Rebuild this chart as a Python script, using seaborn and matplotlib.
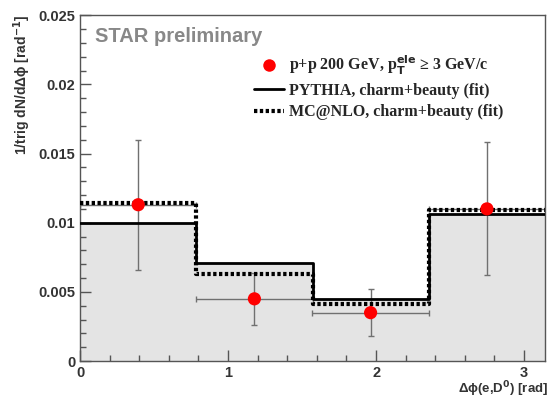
import numpy as np
import pandas as pd
import matplotlib
matplotlib.use("Agg")
import matplotlib.pyplot as plt
import seaborn as sns
from matplotlib.ticker import MultipleLocator
from matplotlib.lines import Line2D

# Data
bin_edges = [0.0, np.pi / 4, np.pi / 2, 3 * np.pi / 4, np.pi]
bin_centers = [0.393, 1.178, 1.963, 2.749]
data_y = [0.0113, 0.0045, 0.0035, 0.0110]
data_yerr = [0.0047, 0.0019, 0.0017, 0.0048]
data_xerr = [0.393, 0.393, 0.393, 0.393]
pythia = [0.0100, 0.0071, 0.0045, 0.0106]
mcnlo = [0.0114, 0.0063, 0.0041, 0.0109]
x_tick_labels = ["0", "1", "2", "3"]
y_tick_labels = ["0", "0.005", "0.01", "0.015", "0.02", "0.025"]

sns.set_style("ticks")
plt.rcParams['font.family'] = ['Liberation Sans', 'DejaVu Sans']

fig = plt.figure(figsize=(5.5, 3.99), dpi=100)
ax = fig.add_axes([0.1455, 0.095, 0.8455, 0.867])
ax.set_axisbelow(False)

# PYTHIA filled histogram
sns.histplot(x=bin_centers, weights=pythia, bins=bin_edges, element="step",
             fill=True, color="#e4e4e4", alpha=1.0, linewidth=0, ax=ax, zorder=1)

step_df = pd.DataFrame({
    "x": bin_edges,
    "pythia": pythia + [pythia[-1]],
    "mcnlo": mcnlo + [mcnlo[-1]],
})
sns.lineplot(data=step_df, x="x", y="pythia", drawstyle="steps-post", color="black",
             linewidth=2.0, ax=ax, zorder=3)
sns.lineplot(data=step_df, x="x", y="mcnlo", drawstyle="steps-post", color="black",
             linewidth=3.0, linestyle=(0, (0.8, 0.6)), ax=ax, zorder=4)

ax.errorbar(bin_centers, data_y, yerr=data_yerr, xerr=data_xerr, fmt="none",
            ecolor="#707070", elinewidth=1.0, capsize=2, capthick=1.0, zorder=2)
sns.scatterplot(x=bin_centers, y=data_y, color="#ff0000", s=90, edgecolor="none",
                ax=ax, zorder=5)

ax.set_xlim(0, np.pi)
ax.set_ylim(0, 0.025)
ax.set_xticks([0, 1, 2, 3])
ax.set_xticklabels(x_tick_labels)
ax.set_yticks([0, 0.005, 0.01, 0.015, 0.02, 0.025])
ax.set_yticklabels(y_tick_labels)
ax.xaxis.set_minor_locator(MultipleLocator(0.2))
ax.yaxis.set_minor_locator(MultipleLocator(0.001))
ax.tick_params(axis="both", which="major", direction="in", length=8, width=1,
               color="#555555", labelsize=10.5, labelcolor="#333333")
ax.tick_params(axis="both", which="minor", direction="in", length=4, width=1,
               color="#555555")
ax.tick_params(top=False, right=False, which="both")
for lab in ax.get_xticklabels() + ax.get_yticklabels():
    lab.set_fontweight("bold")
for sp in ax.spines.values():
    sp.set_color("#555555")
    sp.set_linewidth(1.0)
    sp.set_visible(True)

ax.set_xlabel("\u0394\u03d5(e,D$^\\mathbf{0}$) [rad]", fontsize=9.5, fontweight="bold",
              color="#333333", loc="right")
ax.xaxis.set_label_coords(1.006, -0.052)
ax.set_ylabel("1/trig dN/d\u0394\u03d5 [rad$^{\\mathbf{-1}}$]", fontsize=10, fontweight="bold",
              color="#333333", loc="top", labelpad=4)

ax.text(0.032, 0.965, "STAR preliminary", transform=ax.transAxes, fontsize=14.5,
        fontweight="bold", color="#888888", va="top", ha="left")

handles = [
    Line2D([], [], marker="o", color="none", markerfacecolor="#ff0000",
           markeredgecolor="none", markersize=9),
    Line2D([], [], color="black", linewidth=2.0),
    Line2D([], [], color="black", linewidth=3.0, linestyle=(0, (0.8, 0.6))),
]
labels = [
    "p+p 200 GeV, p$_\\mathbf{T}^\\mathbf{ele}$ \u2265 3 GeV/c",
    "PYTHIA, charm+beauty (fit)",
    "MC@NLO, charm+beauty (fit)",
]
leg = ax.legend(handles, labels, loc="upper right", bbox_to_anchor=(0.935, 0.92),
                frameon=False, handlelength=1.9, handletextpad=0.3, labelspacing=0.35,
                borderpad=0.2,
                prop={"family": ["Liberation Serif", "DejaVu Serif"], "weight": "bold",
                      "size": 11.5})

fig.savefig("out.png", dpi=100)
